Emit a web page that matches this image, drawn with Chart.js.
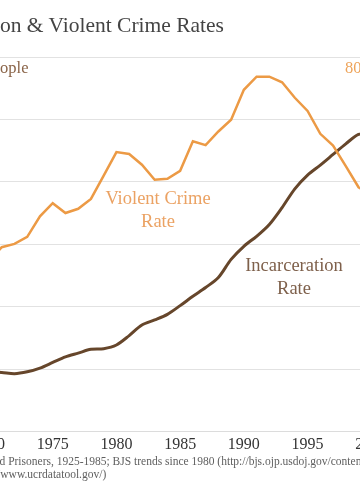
<!DOCTYPE html>
<html>
<head>
<meta charset="utf-8">
<script src="https://cdn.jsdelivr.net/npm/chart.js@4/dist/chart.umd.min.js"></script>
<style>
  html, body { margin: 0; padding: 0; background: #fff; }
  body { width: 360px; height: 504px; overflow: hidden; position: relative; font-family: "Liberation Serif", serif; }
  #wrap { position: absolute; left: -100px; top: 0; width: 560px; height: 504px; }
  .txt { position: absolute; white-space: nowrap; }
  #title { top: 13px; font-size: 21.5px; color: #444; }
  #leftLbl { top: 58px; font-size: 16.5px; color: #8a6448; }
  #rightLbl { top: 58px; left: 345px; font-size: 16.5px; color: #eea45a; }
  .note { font-size: 18.5px; text-align: center; line-height: 23px; }
  #crimeLbl { left: 98px; width: 120px; top: 187px; color: #eba263; }
  #prisonLbl { left: 234px; width: 120px; top: 254px; color: #7e604b; }
  .src { font-size: 11.5px; color: #606060; }
  #src1 { top: 455px; }
  #src2 { top: 468px; }
</style>
</head>
<body>
<div id="wrap"><canvas id="chart" width="560" height="504"></canvas></div>
<div class="txt" id="title"><span class="pre">Incarcerati</span>on &amp; Violent Crime Rates</div>
<div class="txt" id="leftLbl"><span class="pre">Prisoners per 100,000 pe</span>ople</div>
<div class="txt" id="rightLbl">800</div>
<div class="txt note" id="crimeLbl">Violent Crime<br>Rate</div>
<div class="txt note" id="prisonLbl">Incarceration<br>Rate</div>
<div class="txt src" id="src1"><span class="pre">Sources: BJS, State an</span>d Prisoners, 1925-1985; BJS trends since 1980 (http://bjs.ojp.usdoj.gov/content/glance/incrt.cfm); FBI UCR</div>
<div class="txt src" id="src2"><span class="pre">(http://</span>www.ucrdatatool.gov/)</div>
<script>
const years = [1970, 1971, 1972, 1973, 1974, 1975, 1976, 1977, 1978, 1979,
  1980, 1981, 1982, 1983, 1984, 1985, 1986, 1987, 1988, 1989,
  1990, 1991, 1992, 1993, 1994, 1995, 1996, 1997, 1998, 1999, 2000];

// prisoners per 100,000 people (left axis)
const incarceration = [96, 95, 93, 96, 102, 111, 120, 126, 132, 133,
  139, 154, 171, 179, 188, 202, 217, 231, 247, 276,
  297, 313, 332, 359, 389, 411, 427, 444, 461, 476, 478];

// violent crimes per 100,000 people (right axis)
const violentCrime = [364, 394, 401, 416, 460, 488, 467, 476, 497, 547,
  597, 593, 570, 538, 540, 557, 620, 612, 641, 666,
  730, 758, 758, 746, 713, 685, 636, 611, 567, 522, 506];

const xTicks = [1970, 1975, 1980, 1985, 1990, 1995, 2000, 2005];

// the picture is cropped: shift text so only the tail after .pre shows
document.querySelectorAll('.txt').forEach(el => {
  const pre = el.querySelector('.pre');
  if (pre) el.style.left = (-pre.offsetWidth) + 'px';
});

const pts = arr => arr.map((v, i) => ({ x: years[i], y: v }));

new Chart(document.getElementById('chart'), {
  type: 'line',
  data: {
    datasets: [
      {
        label: 'Violent Crime Rate',
        data: pts(violentCrime),
        yAxisID: 'y1',
        borderColor: '#ec9a45',
        borderWidth: 2.5,
        pointRadius: 0,
        tension: 0,
      },
      {
        label: 'Incarceration Rate',
        data: pts(incarceration),
        yAxisID: 'y',
        borderColor: '#66462b',
        borderWidth: 3,
        pointRadius: 0,
        tension: 0.3,
      }
    ]
  },
  options: {
    responsive: false,
    animation: false,
    devicePixelRatio: 1,
    layout: { padding: { top: 57, bottom: 47, left: 89, right: 25 } },
    plugins: { legend: { display: false }, tooltip: { enabled: false } },
    scales: {
      x: {
        type: 'linear',
        min: 1970,
        max: 2005,
        afterBuildTicks: axis => { axis.ticks = xTicks.map(v => ({ value: v })); },
        ticks: {
          callback: v => String(v),
          color: '#333',
          font: { family: 'Liberation Serif', size: 16 },
          padding: 3,
          maxRotation: 0,
          autoSkip: false,
        },
        grid: { display: false, drawTicks: false },
        border: { color: '#dcdcdc' },
      },
      y: {
        min: 0,
        max: 600,
        ticks: { display: false, stepSize: 100 },
        grid: { color: '#e2e2e2', drawTicks: false },
        border: { display: false },
      },
      y1: {
        position: 'right',
        min: 0,
        max: 800,
        display: false,
      }
    }
  }
});
</script>
</body>
</html>
